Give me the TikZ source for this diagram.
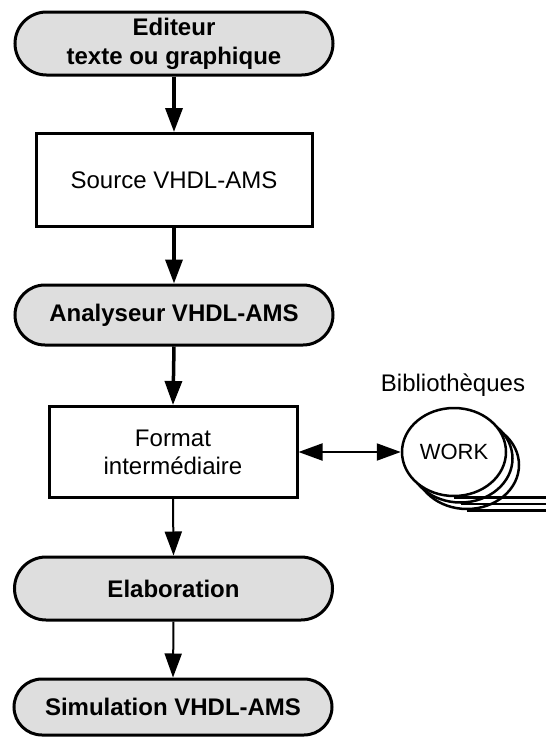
\documentclass[tikz,border=0pt]{standalone}
\usepackage{fontspec}
\setmainfont{Liberation Sans}
\usetikzlibrary{arrows.meta,shapes.misc,shapes.geometric}
\definecolor{stadfill}{RGB}{222,222,222}
\begin{document}
\begin{tikzpicture}[x=1pt,y=-1pt,
  stadium/.style={rounded rectangle, draw, line width=3pt, fill=stadfill,
    font=\bfseries\fontsize{24}{29}\selectfont, align=center, inner sep=0pt,
    minimum width=318pt},
  box/.style={rectangle, draw, line width=3pt, fill=white,
    font=\fontsize{24}{28}\selectfont, align=center, inner sep=0pt},
  thickarrow/.style={line width=3.5pt, -{Triangle[width=17pt,length=24pt]}},
  thinarrow/.style={line width=2pt, -{Triangle[width=17pt,length=24pt]}},
  reel/.style={ellipse, draw, line width=2.5pt, fill=white, inner sep=0pt,
    minimum width=104pt, minimum height=88pt},
  tail/.style={line width=2.5pt},
  lbl/.style={font=\fontsize{24}{28}\selectfont, inner sep=0pt}]
\useasboundingbox (0,0) rectangle (546,740);

\node[stadium, minimum height=63pt] (ed) at (174,43.5) {Editeur\\texte ou graphique};
\node[box, minimum width=276pt, minimum height=93pt] (src) at (174,180) {Source VHDL-AMS};
\node[stadium, minimum height=60pt] (ana) at (174,315) {Analyseur VHDL-AMS};
\node[box, minimum width=248pt, minimum height=91pt] (fmt) at (173,452) {Format\\intermédiaire};
\node[stadium, minimum height=63pt] (ela) at (173.5,588.5) {Elaboration};
\node[stadium, minimum height=56pt] (sim) at (173,707) {Simulation VHDL-AMS};

% library (tape reels)
\node[reel] (work3) at (467,465) {};
\draw[tail] (work3.south) -- ++(79,0);
\node[reel] (work2) at (460.5,458.5) {};
\draw[tail] (work2.south) -- ++(85.5,0);
\node[reel, font=\fontsize{22}{26}\selectfont] (work) at (454,452) {WORK};
\draw[tail] (work.south) -- ++(92,0);
\node[lbl] (lib) at (453,385) {Bibliothèques};

% connectors
\draw[thickarrow] (ed.south) -- (src.north);
\draw[thickarrow] (src.south) -- (ana.north);
\draw[thickarrow] (ana.south) -- (fmt.north);
\draw[thinarrow] (fmt.south) -- (ela.north);
\draw[thinarrow] (ela.south) -- (sim.north);
\draw[line width=2pt, {Triangle[width=17pt,length=24pt]}-{Triangle[width=17pt,length=24pt]}] (fmt.east) -- (work.west);
\end{tikzpicture}
\end{document}
